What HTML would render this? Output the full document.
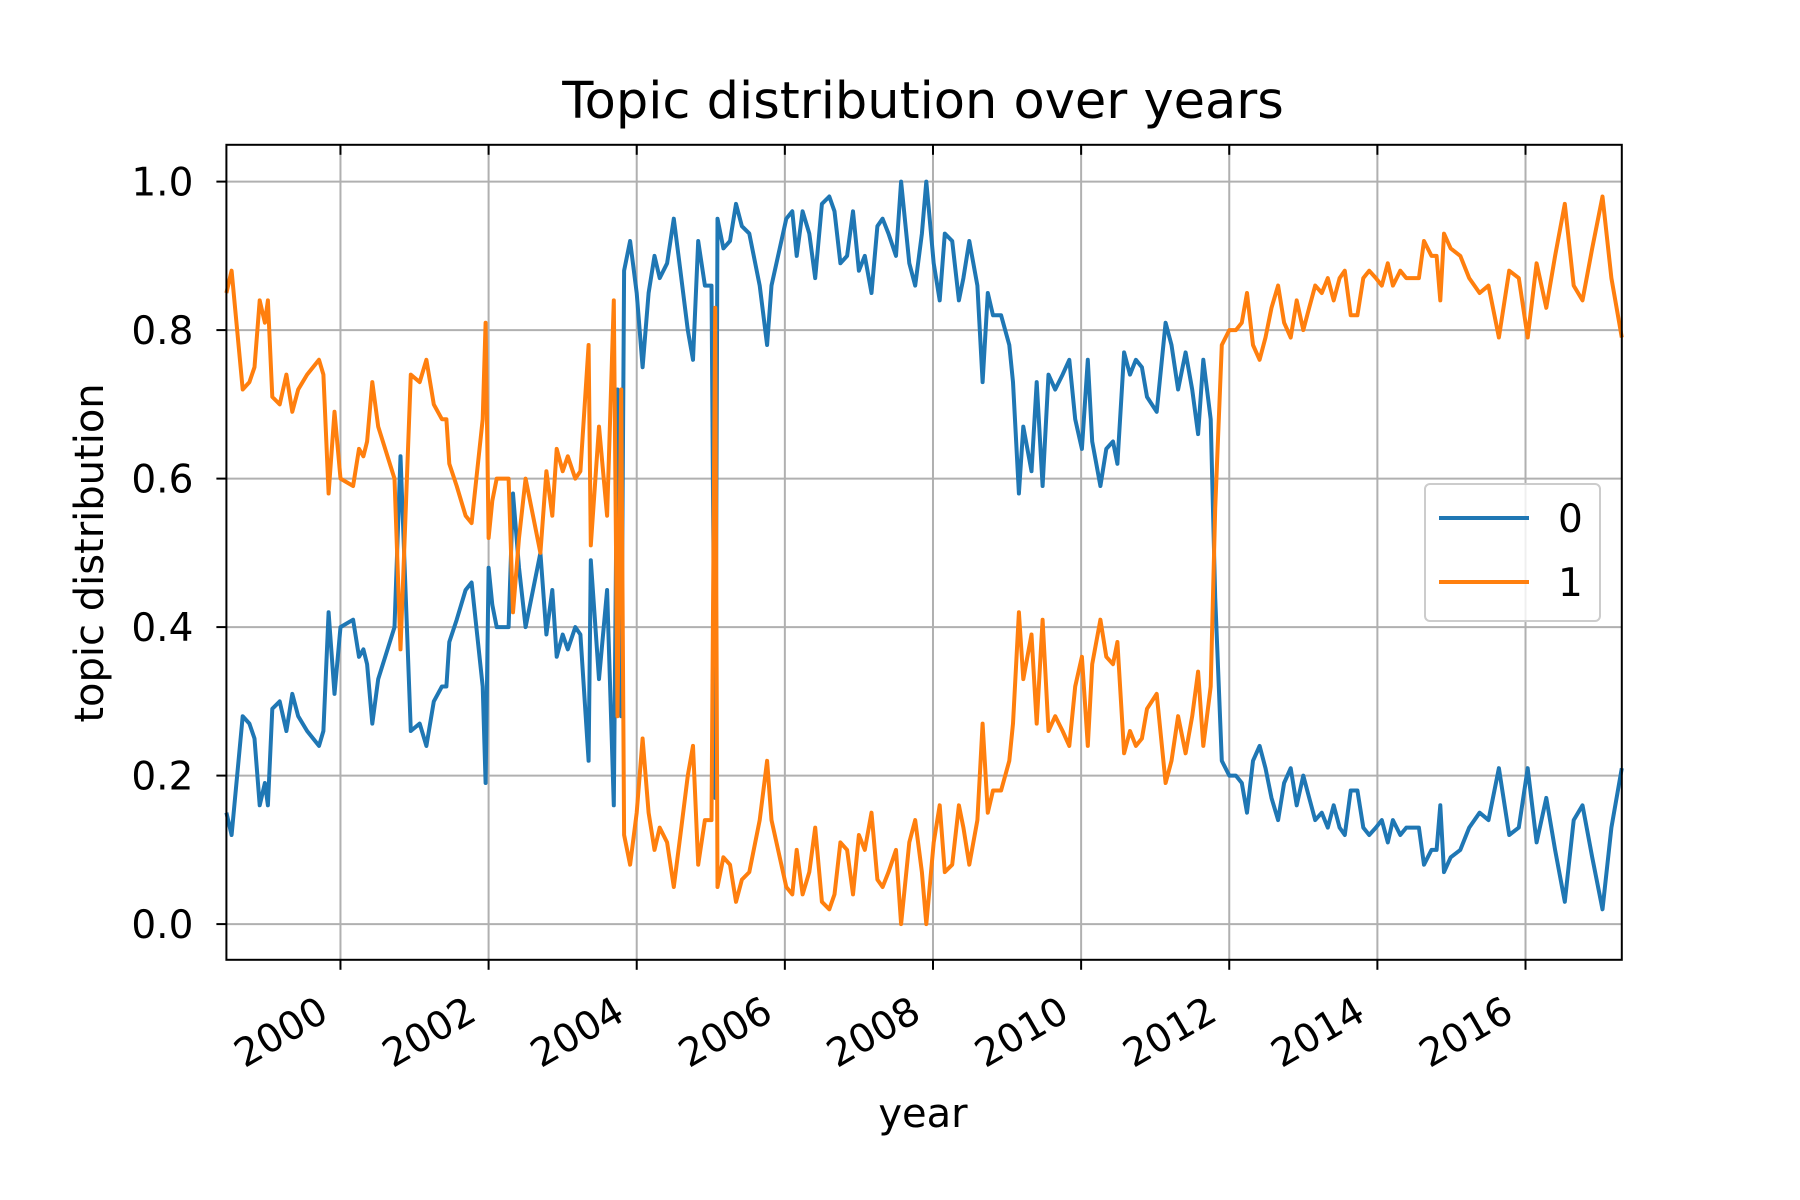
<!DOCTYPE html>
<html><head><meta charset="utf-8">
<style>
html,body{margin:0;padding:0;background:#fff;}
svg{display:block;font-family:"DejaVu Sans","Liberation Sans",sans-serif;}
</style></head>
<body>
<svg id="chart" width="1800" height="1200" viewBox="0 0 1800 1200" xmlns="http://www.w3.org/2000/svg">
<rect width="1800" height="1200" fill="#fff"/>
<g id="grid"></g>
<g id="series"></g>
<rect x="226.4" y="144.8" width="1395.4" height="815" fill="none" stroke="#000" stroke-width="2"/>
<g id="ticks"></g>
<text x="923" y="118" font-size="51" text-anchor="middle">Topic distribution over years</text>
<text x="923" y="1127" font-size="40" text-anchor="middle">year</text>
<text x="0" y="0" font-size="40" text-anchor="middle" transform="translate(103,553) rotate(-90)">topic distribution</text>
<g>
<rect x="1425" y="484" width="175" height="137" rx="5" fill="#fff" fill-opacity="0.8" stroke="#ccc" stroke-width="2"/>
<line x1="1439" y1="518" x2="1529" y2="518" stroke="#1f77b4" stroke-width="4"/>
<text x="1558" y="532" font-size="39">0</text>
<line x1="1439" y1="582" x2="1529" y2="582" stroke="#ff7f0e" stroke-width="4"/>
<text x="1558" y="596" font-size="39">1</text>
</g>
</svg>
<script>
const dates = [1998.46,1998.53,1998.68,1998.77,1998.84,1998.91,1998.98,1999.02,1999.08,1999.18,1999.27,1999.35,1999.43,1999.55,1999.71,1999.77,1999.84,1999.92,2000.00,2000.17,2000.25,2000.31,2000.36,2000.43,2000.51,2000.73,2000.81,2000.95,2001.07,2001.16,2001.26,2001.37,2001.43,2001.47,2001.57,2001.69,2001.77,2001.92,2001.96,2002.00,2002.05,2002.11,2002.27,2002.33,2002.41,2002.50,2002.70,2002.78,2002.86,2002.92,2003.00,2003.07,2003.17,2003.24,2003.35,2003.38,2003.49,2003.60,2003.69,2003.74,2003.79,2003.83,2003.91,2004.00,2004.08,2004.16,2004.24,2004.31,2004.41,2004.50,2004.59,2004.69,2004.76,2004.83,2004.92,2005.01,2005.06,2005.09,2005.17,2005.26,2005.34,2005.42,2005.52,2005.66,2005.76,2005.82,2006.02,2006.10,2006.16,2006.24,2006.33,2006.41,2006.50,2006.60,2006.67,2006.75,2006.84,2006.92,2007.00,2007.08,2007.17,2007.25,2007.32,2007.40,2007.50,2007.57,2007.68,2007.76,2007.85,2007.91,2008.01,2008.09,2008.16,2008.26,2008.35,2008.41,2008.49,2008.60,2008.67,2008.74,2008.81,2008.92,2009.03,2009.08,2009.16,2009.22,2009.33,2009.40,2009.48,2009.56,2009.65,2009.75,2009.84,2009.92,2010.01,2010.09,2010.15,2010.26,2010.34,2010.43,2010.49,2010.58,2010.66,2010.74,2010.82,2010.89,2011.02,2011.14,2011.22,2011.31,2011.41,2011.50,2011.58,2011.65,2011.75,2011.81,2011.90,2012.00,2012.09,2012.17,2012.24,2012.32,2012.41,2012.49,2012.57,2012.66,2012.74,2012.83,2012.91,2013.00,2013.08,2013.16,2013.25,2013.33,2013.41,2013.49,2013.56,2013.64,2013.73,2013.81,2013.89,2013.98,2014.06,2014.14,2014.21,2014.31,2014.39,2014.48,2014.56,2014.63,2014.73,2014.80,2014.85,2014.90,2014.99,2015.12,2015.24,2015.38,2015.50,2015.64,2015.78,2015.91,2016.03,2016.15,2016.28,2016.40,2016.53,2016.65,2016.77,2016.90,2017.04,2017.16,2017.30];
const topic0 = [0.15,0.12,0.28,0.27,0.25,0.16,0.19,0.16,0.29,0.30,0.26,0.31,0.28,0.26,0.24,0.26,0.42,0.31,0.40,0.41,0.36,0.37,0.35,0.27,0.33,0.40,0.63,0.26,0.27,0.24,0.30,0.32,0.32,0.38,0.41,0.45,0.46,0.32,0.19,0.48,0.43,0.40,0.40,0.58,0.48,0.40,0.50,0.39,0.45,0.36,0.39,0.37,0.40,0.39,0.22,0.49,0.33,0.45,0.16,0.72,0.28,0.88,0.92,0.85,0.75,0.85,0.90,0.87,0.89,0.95,0.88,0.80,0.76,0.92,0.86,0.86,0.17,0.95,0.91,0.92,0.97,0.94,0.93,0.86,0.78,0.86,0.95,0.96,0.90,0.96,0.93,0.87,0.97,0.98,0.96,0.89,0.90,0.96,0.88,0.90,0.85,0.94,0.95,0.93,0.90,1.00,0.89,0.86,0.93,1.00,0.89,0.84,0.93,0.92,0.84,0.87,0.92,0.86,0.73,0.85,0.82,0.82,0.78,0.73,0.58,0.67,0.61,0.73,0.59,0.74,0.72,0.74,0.76,0.68,0.64,0.76,0.65,0.59,0.64,0.65,0.62,0.77,0.74,0.76,0.75,0.71,0.69,0.81,0.78,0.72,0.77,0.72,0.66,0.76,0.68,0.44,0.22,0.20,0.20,0.19,0.15,0.22,0.24,0.21,0.17,0.14,0.19,0.21,0.16,0.20,0.17,0.14,0.15,0.13,0.16,0.13,0.12,0.18,0.18,0.13,0.12,0.13,0.14,0.11,0.14,0.12,0.13,0.13,0.13,0.08,0.10,0.10,0.16,0.07,0.09,0.10,0.13,0.15,0.14,0.21,0.12,0.13,0.21,0.11,0.17,0.10,0.03,0.14,0.16,0.09,0.02,0.13,0.21];
const topic1 = [0.85,0.88,0.72,0.73,0.75,0.84,0.81,0.84,0.71,0.70,0.74,0.69,0.72,0.74,0.76,0.74,0.58,0.69,0.60,0.59,0.64,0.63,0.65,0.73,0.67,0.60,0.37,0.74,0.73,0.76,0.70,0.68,0.68,0.62,0.59,0.55,0.54,0.68,0.81,0.52,0.57,0.60,0.60,0.42,0.52,0.60,0.50,0.61,0.55,0.64,0.61,0.63,0.60,0.61,0.78,0.51,0.67,0.55,0.84,0.28,0.72,0.12,0.08,0.15,0.25,0.15,0.10,0.13,0.11,0.05,0.12,0.20,0.24,0.08,0.14,0.14,0.83,0.05,0.09,0.08,0.03,0.06,0.07,0.14,0.22,0.14,0.05,0.04,0.10,0.04,0.07,0.13,0.03,0.02,0.04,0.11,0.10,0.04,0.12,0.10,0.15,0.06,0.05,0.07,0.10,0.00,0.11,0.14,0.07,0.00,0.11,0.16,0.07,0.08,0.16,0.13,0.08,0.14,0.27,0.15,0.18,0.18,0.22,0.27,0.42,0.33,0.39,0.27,0.41,0.26,0.28,0.26,0.24,0.32,0.36,0.24,0.35,0.41,0.36,0.35,0.38,0.23,0.26,0.24,0.25,0.29,0.31,0.19,0.22,0.28,0.23,0.28,0.34,0.24,0.32,0.56,0.78,0.80,0.80,0.81,0.85,0.78,0.76,0.79,0.83,0.86,0.81,0.79,0.84,0.80,0.83,0.86,0.85,0.87,0.84,0.87,0.88,0.82,0.82,0.87,0.88,0.87,0.86,0.89,0.86,0.88,0.87,0.87,0.87,0.92,0.90,0.90,0.84,0.93,0.91,0.90,0.87,0.85,0.86,0.79,0.88,0.87,0.79,0.89,0.83,0.90,0.97,0.86,0.84,0.91,0.98,0.87,0.79];
const yTicks = [0.0,0.2,0.4,0.6,0.8,1.0];
const yTickLabels = ["0.0","0.2","0.4","0.6","0.8","1.0"];
const xTicks = [2000,2002,2004,2006,2008,2010,2012,2014,2016];
const xTickLabels = ["2000","2002","2004","2006","2008","2010","2012","2014","2016"];

const NS = "http://www.w3.org/2000/svg";
const L=226.4,R=1621.8,T=144.8,B=959.8;
const xMin=1998.46,xMax=2017.30;
function xs(v){return L+(v-xMin)/(xMax-xMin)*(R-L);}
function ys(v){return 924.1-v*742.5;}
function mk(tag,attrs,parent){const e=document.createElementNS(NS,tag);for(const k in attrs)e.setAttribute(k,attrs[k]);parent.appendChild(e);return e;}
const grid=document.getElementById('grid'),ticks=document.getElementById('ticks'),series=document.getElementById('series');
yTicks.forEach((v,i)=>{
  const y=ys(v);
  const g=mk('line',{x1:L,x2:R,y1:y,y2:y,stroke:'#b0b0b0','stroke-width':2},grid);
  
  
  const t=mk('line',{x1:L-10,x2:L,y1:y,y2:y,stroke:'#000','stroke-width':2},ticks);
  
  
  const lb=mk('text',{x:L-33,y:y+14,'font-size':39,'text-anchor':'end'},ticks);
  lb.textContent=yTickLabels[i];
  
  
});
xTicks.forEach((v,i)=>{
  const x=xs(v);
  const g=mk('line',{x1:x,x2:x,y1:T,y2:B,stroke:'#b0b0b0','stroke-width':2},grid);
  
  
  const t=mk('line',{x1:x,x2:x,y1:B,y2:B+10,stroke:'#000','stroke-width':2},ticks);
  
  
  const t2=mk('line',{x1:x,x2:x,y1:T,y2:T+10,stroke:'#000','stroke-width':2},ticks);
  
  
  const lb=mk('text',{x:0,y:0,'font-size':39,'text-anchor':'end',transform:`translate(${x-10},${B+59}) rotate(-30)`},ticks);
  lb.textContent=xTickLabels[i];
  
  
});
function drawLine(vals,color,name){
  const d=vals.map((v,i)=>(i?'L':'M')+xs(dates[i]).toFixed(1)+','+ys(v).toFixed(1)).join('');
  const p=mk('path',{d:d,fill:'none',stroke:color,'stroke-width':4,'stroke-linejoin':'round'},series);
  
  
}
drawLine(topic0,'#1f77b4','line-topic-0');
drawLine(topic1,'#ff7f0e','line-topic-1');
</script>
</body></html>
